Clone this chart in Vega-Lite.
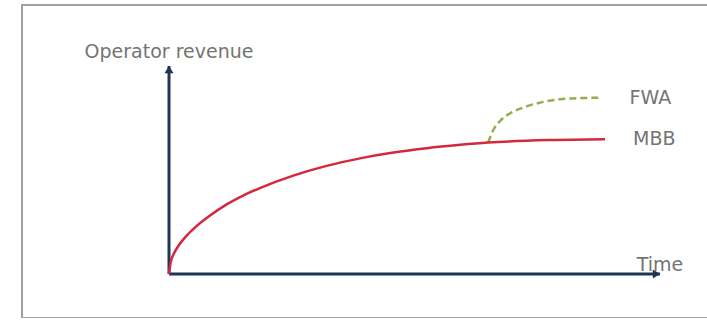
{
  "$schema": "https://vega.github.io/schema/vega-lite/v6.json",
  "width": 700,
  "height": 313,
  "autosize": {"type": "none"},
  "padding": {"left": 22, "top": 5, "right": 0, "bottom": 0},
  "background": "white",
  "config": {"view": {"stroke": "#a0a0a0", "strokeWidth": 2}},
  "datasets": {
    "curves": [
      {"series": "MBB", "t": 0, "v": 0},
      {"series": "MBB", "t": 0.3, "v": 5.2},
      {"series": "MBB", "t": 1, "v": 9.8},
      {"series": "MBB", "t": 2, "v": 13.8},
      {"series": "MBB", "t": 3.5, "v": 18.2},
      {"series": "MBB", "t": 5.5, "v": 22.8},
      {"series": "MBB", "t": 8, "v": 27.5},
      {"series": "MBB", "t": 11.75, "v": 33.5},
      {"series": "MBB", "t": 15, "v": 37.6},
      {"series": "MBB", "t": 18.5, "v": 41.3},
      {"series": "MBB", "t": 25.3, "v": 47.3},
      {"series": "MBB", "t": 32.1, "v": 52.0},
      {"series": "MBB", "t": 38.9, "v": 55.6},
      {"series": "MBB", "t": 45.7, "v": 58.4},
      {"series": "MBB", "t": 52.5, "v": 60.5},
      {"series": "MBB", "t": 59.3, "v": 62.1},
      {"series": "MBB", "t": 65.0, "v": 63.2},
      {"series": "MBB", "t": 77.6, "v": 64.4},
      {"series": "MBB", "t": 88.8, "v": 64.8},
      {"series": "FWA", "t": 65.0, "v": 63.2},
      {"series": "FWA", "t": 66.0, "v": 69.0},
      {"series": "FWA", "t": 67.4, "v": 73.5},
      {"series": "FWA", "t": 69.5, "v": 77.3},
      {"series": "FWA", "t": 72.2, "v": 80.1},
      {"series": "FWA", "t": 75.6, "v": 82.4},
      {"series": "FWA", "t": 79.6, "v": 84.0},
      {"series": "FWA", "t": 84.4, "v": 84.6},
      {"series": "FWA", "t": 88.1, "v": 84.8}
    ],
    "axes": [
      {"name": "y", "t": 0, "v": 0, "t2": 0, "v2": 100, "label": "Operator revenue"},
      {"name": "x", "t": 0, "v": 0, "t2": 100, "v2": 0, "label": "Time"}
    ]
  },
  "encoding": {
    "x": {"field": "t", "type": "quantitative", "axis": null,
          "scale": {"domain": [0, 100], "range": [147, 638], "nice": false, "zero": false}},
    "y": {"field": "v", "type": "quantitative", "axis": null,
          "scale": {"domain": [0, 100], "range": [269, 61], "nice": false, "zero": false}}
  },
  "layer": [
    {
      "data": {"name": "axes"},
      "mark": {"type": "rule", "color": "#1e3656", "strokeWidth": 3},
      "encoding": {
        "x2": {"field": "t2"},
        "y2": {"field": "v2"}
      }
    },
    {
      "data": {"name": "axes"},
      "transform": [{"filter": "datum.name == 'y'"}],
      "mark": {"type": "point", "filled": true, "color": "#1e3656", "opacity": 1,
               "shape": "M0,0L-1,1.6L1,1.6Z", "size": 81},
      "encoding": {
        "x": {"field": "t2", "type": "quantitative"},
        "y": {"field": "v2", "type": "quantitative"}
      }
    },
    {
      "data": {"name": "axes"},
      "transform": [{"filter": "datum.name == 'x'"}],
      "mark": {"type": "point", "filled": true, "color": "#1e3656", "opacity": 1,
               "shape": "M0,0L-1.6,-1L-1.6,1Z", "size": 81},
      "encoding": {
        "x": {"field": "t2", "type": "quantitative"},
        "y": {"field": "v2", "type": "quantitative"}
      }
    },
    {
      "data": {"name": "axes"},
      "transform": [{"filter": "datum.name == 'y'"}],
      "mark": {"type": "text", "font": "DejaVu Sans", "fontSize": 19, "color": "#747474",
               "align": "center", "baseline": "middle", "dy": -14},
      "encoding": {
        "x": {"field": "t2", "type": "quantitative"},
        "y": {"field": "v2", "type": "quantitative"},
        "text": {"field": "label"}
      }
    },
    {
      "data": {"name": "axes"},
      "transform": [{"filter": "datum.name == 'x'"}],
      "mark": {"type": "text", "font": "DejaVu Sans", "fontSize": 19, "color": "#747474",
               "align": "center", "baseline": "middle", "dy": -9},
      "encoding": {
        "x": {"field": "t2", "type": "quantitative"},
        "y": {"field": "v2", "type": "quantitative"},
        "text": {"field": "label"}
      }
    },
    {
      "data": {"name": "curves"},
      "transform": [{"filter": "datum.series == 'FWA'"}],
      "mark": {"type": "line", "interpolate": "monotone", "color": "#93b04c",
               "strokeWidth": 2.5, "strokeDash": [7, 4]},
      "encoding": {}
    },
    {
      "data": {"name": "curves"},
      "transform": [{"filter": "datum.series == 'MBB'"}],
      "mark": {"type": "line", "interpolate": "monotone", "color": "#d3283d",
               "strokeWidth": 2.5},
      "encoding": {}
    },
    {
      "data": {"name": "curves"},
      "transform": [
        {"joinaggregate": [{"op": "max", "field": "t", "as": "tmax"}], "groupby": ["series"]},
        {"filter": "datum.t == datum.tmax"}
      ],
      "mark": {"type": "text", "font": "DejaVu Sans", "fontSize": 19, "color": "#747474",
               "align": "left", "baseline": "middle", "dx": 28},
      "encoding": {
        "text": {"field": "series"}
      }
    }
  ]
}
